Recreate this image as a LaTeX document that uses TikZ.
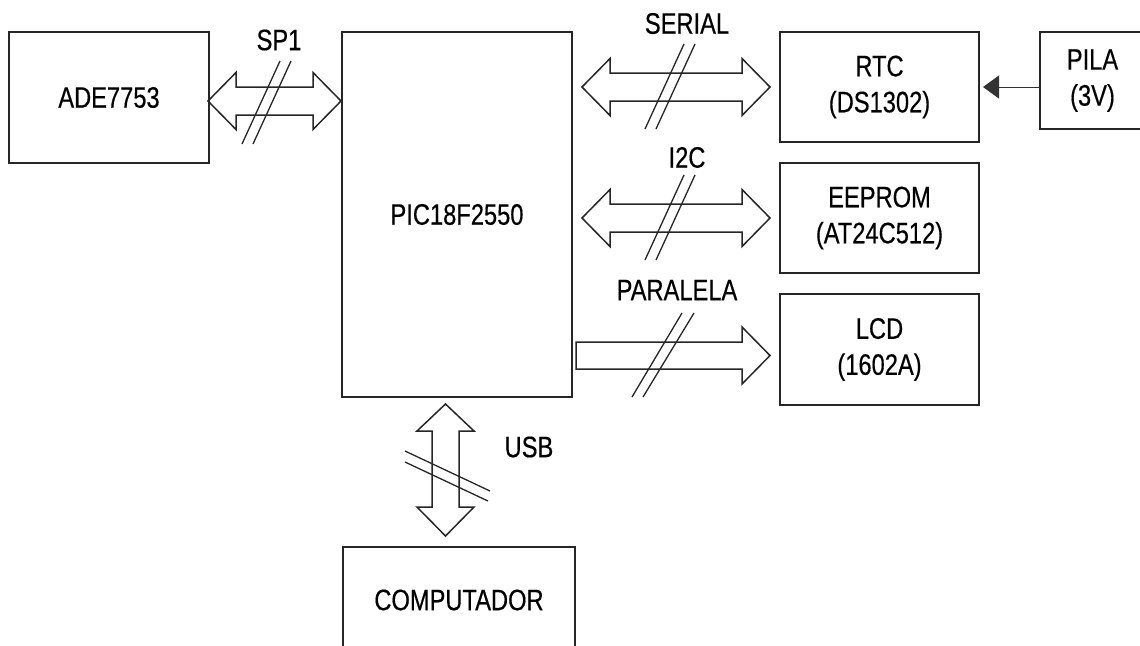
\documentclass[tikz,border=0pt]{standalone}
\usepackage{fontspec}
\setmainfont{Liberation Sans}[FakeStretch=0.8,FakeBold=0.4]
\usetikzlibrary{arrows.meta,calc}
\tikzset{
  blk/.style={draw=black!85,line width=1pt,align=center,inner sep=0pt,
    font=\fontsize{14.8}{18}\selectfont},
  lbl/.style={inner sep=0pt,font=\fontsize{14.8}{18}\selectfont},
  bus/.style={draw=black!85,line width=0.75pt,line join=miter},
  tick/.style={black!85,line width=0.65pt},
  feed/.style={black!80,line width=0.5pt},
}
% hollow two-headed bus arrow, left tip #1 to right tip #2
\newcommand{\dblbus}[2]{%
  \draw[bus] (#1) -- ++(28,-28.5) -- ++(0,14.5) -- ($(#2)+(-28,-14)$) -- ++(0,-14.5)
    -- (#2) -- ++(-28,28.5) -- ++(0,-14.5) -- ($(#1)+(28,14)$) -- ++(0,14.5) -- cycle;}

\begin{document}
\begin{tikzpicture}[x=0.5pt,y=-0.5pt]
  \clip (0,0) rectangle (1140,645);
  % blocks
  \node[blk,minimum width=100pt,minimum height=65.5pt] (ade) at (109,97.5) {ADE7753};
  \node[blk,minimum width=115pt,minimum height=182.5pt] (pic) at (457,214.5) {PIC18F2550};
  \node[blk,minimum width=99.5pt,minimum height=55pt] (rtc) at (879.5,87) {RTC\\(DS1302)};
  \node[blk,minimum width=52.5pt,minimum height=48.5pt] (pila) at (1092.5,80.5) {PILA\\(3V)};
  \node[blk,minimum width=99.5pt,minimum height=55pt] (eeprom) at (879.5,218) {EEPROM\\(AT24C512)};
  \node[blk,minimum width=99.5pt,minimum height=55.5pt] (lcd) at (879.5,349.5) {LCD\\(1602A)};
  \node[blk,minimum width=116pt,minimum height=53pt] (pc) at (459,600) {COMPUTADOR};

  % bus ends
  \coordinate (sp1l) at ($(ade.east)+(-2,3.5)$);
  \coordinate (sp1r) at (pic.west |- sp1l);
  \coordinate (serl) at ($(pic.east |- rtc.west)+(9,0)$);
  \coordinate (serr) at ($(rtc.west)+(-9,0)$);
  \coordinate (i2cl) at ($(pic.east |- eeprom.west)+(9,0)$);
  \coordinate (i2cr) at ($(eeprom.west)+(-9,0)$);
  \coordinate (parl) at ($(pic.east |- lcd.west)+(3,6)$);
  \coordinate (parr) at ($(lcd.west)+(-9,6)$);
  \coordinate (usbt) at ($(pic.south)+(-11.5,6)$);
  \coordinate (usbb) at ($(usbt |- pc.north)+(0,-10)$);

  \dblbus{sp1l}{sp1r}
  \dblbus{serl}{serr}
  \dblbus{i2cl}{i2cr}
  \draw[bus] (parl) -- ++(0,-13.5) -- ($(parr)+(-28,-13.5)$) -- ++(0,-15) -- (parr)
    -- ++(-28,28.5) -- ++(0,-15) -- ($(parl)+(0,13.5)$) -- cycle;
  \draw[bus] (usbt) -- ++(28.5,27) -- ++(-15,0) -- ($(usbb)+(13.5,-29)$) -- ++(15,0)
    -- (usbb) -- ++(-28.5,-29) -- ++(15,0) -- ($(usbt)+(-13.5,27)$) -- ++(-15,0) -- cycle;

  % bus width marks
  \draw[tick] (280,61) -- (242,144);  \draw[tick] (291,61) -- (253,144);
  \draw[tick] (684,44) -- (645,129);  \draw[tick] (695,44) -- (656,129);
  \draw[tick] (684,175) -- (645,260); \draw[tick] (695,175) -- (656,260);
  \draw[tick] (682,313) -- (632,397); \draw[tick] (694,313) -- (643,397);
  \draw[tick] (405,451) -- (490,491); \draw[tick] (405,462) -- (488,501);

  % battery
  \draw[feed,-{Triangle[length=8pt,width=11.5pt]},shorten >=1.5pt] (pila.west |- rtc.east) -- (rtc.east);

  % labels
  \node[lbl] (sp1) at (279,40) {SP1};
  \node[lbl] (serial) at (687,23.5) {SERIAL};
  \node[lbl] (i2c) at (687,157.5) {I2C};
  \node[lbl] (paralela) at (677,290) {PARALELA};
  \node[lbl] (usb) at (529,447) {USB};
\end{tikzpicture}
\end{document}
